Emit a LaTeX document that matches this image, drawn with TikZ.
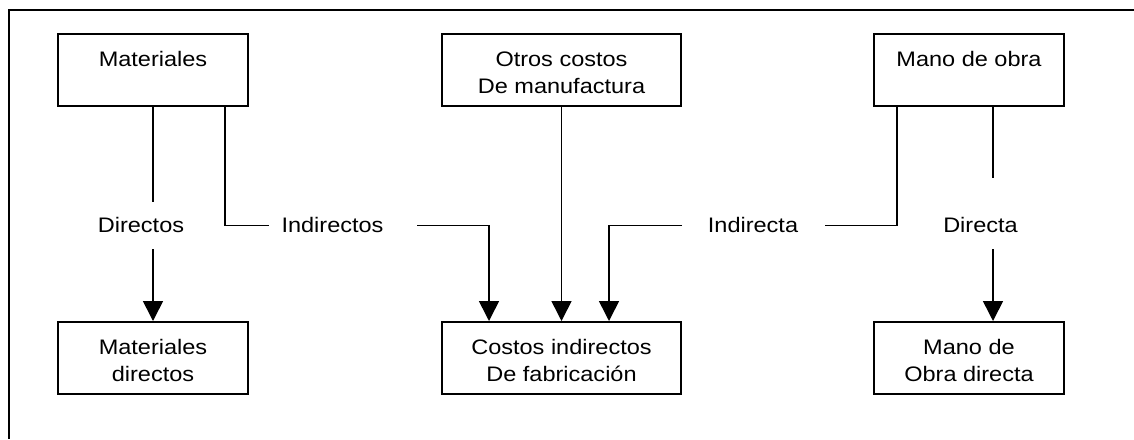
\documentclass[tikz,border=0pt]{standalone}
\usepackage{fontspec}
\setmainfont{Liberation Sans}[FakeStretch=1.12]
\usetikzlibrary{arrows.meta}
\newcommand\myfs{\fontsize{21}{27}\selectfont}
\newcommand\myfirst{\rule{0pt}{20pt}}
\begin{document}
\begin{tikzpicture}[x=1pt,y=-1pt,
  box/.style={draw, line width=2pt, minimum width=190pt, minimum height=72pt, inner sep=0pt, align=center, font=\myfs},
  lbl/.style={inner sep=0pt, font=\myfs, anchor=base},
  conn/.style={line width=1.6pt},
  arr/.style={conn, -{Triangle[width=20pt,length=20pt]}}
]
\useasboundingbox (0,0) rectangle (1134,439);
\draw[line width=2pt] (1134,10) -- (9,10) -- (9,439);

% boxes
\node[box] (mat) at (153,69.7) {\myfirst Materiales\\\mbox{}};
\node[box, minimum width=239pt] (otros) at (561.5,69.7) {\myfirst Otros costos\\De manufactura};
\node[box] (mano) at (969,69.7) {\myfirst Mano de obra\\\mbox{}};
\node[box] (matd) at (153,358) {\myfirst Materiales\\directos};
\node[box, minimum width=239pt] (cif) at (561.5,358) {\myfirst Costos indirectos\\De fabricación};
\node[box] (mod) at (969,358) {\myfirst Mano de\\Obra directa};

% labels
\node[lbl] (ldir) at (141,232) {Directos};
\node[lbl] (lind) at (332.5,232) {Indirectos};
\node[lbl] (linda) at (753,232) {Indirecta};
\node[lbl] (ldira) at (980.5,232) {Directa};

% gap coordinates
\coordinate (d1) at (153,202);
\coordinate (d2) at (153,249);
\coordinate (i1) at (269,225.3);
\coordinate (i2) at (417,225.3);
\coordinate (j1) at (825,225.3);
\coordinate (j2) at (682,225.3);
\coordinate (k1) at (993,178);
\coordinate (k2) at (993,249);

% connectors
\draw[conn] (mat.south) -- (d1);
\draw[arr] (d2) -- (matd.north);
\draw[conn] ([xshift=72pt]mat.south) |- (i1);
\draw[arr] (i2) -| ([xshift=-72.5pt]cif.north);
\draw[arr] (otros.south) -- (cif.north);
\draw[conn] ([xshift=-72pt]mano.south) |- (j1);
\draw[arr] (j2) -| ([xshift=47.5pt]cif.north);
\draw[conn] ([xshift=24pt]mano.south) -- (k1);
\draw[arr] (k2) -- ([xshift=24pt]mod.north);
\end{tikzpicture}
\end{document}
